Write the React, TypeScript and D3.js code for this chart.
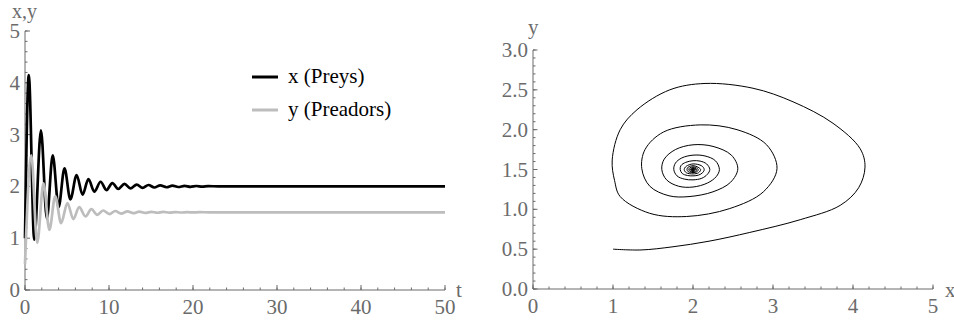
import * as d3 from "d3";

// time series (extrema + settling values)
const PREY_T = [0, 0.45, 1.1, 1.9, 2.6, 3.3, 4.0, 4.7, 5.4, 6.15, 6.85, 7.55, 8.25, 9.0, 9.7, 10.4, 11.1, 11.85, 12.55, 13.3, 14.0, 14.7, 15.4, 16.1, 16.85, 17.55, 18.25, 19.0, 19.7, 20.4, 21.1, 21.8, 23, 50];
const PREY = [1.0, 4.15, 0.97, 3.08, 1.38, 2.6, 1.6, 2.35, 1.75, 2.22, 1.84, 2.14, 1.9, 2.09, 1.93, 2.065, 1.95, 2.048, 1.963, 2.036, 1.972, 2.027, 1.979, 2.02, 1.984, 2.015, 1.988, 2.011, 1.991, 2.008, 1.994, 2.005, 2.0, 2.0];
const PRED_T = [0, 0.75, 1.45, 2.2, 2.9, 3.6, 4.3, 5.05, 5.75, 6.45, 7.2, 7.9, 8.6, 9.3, 10.05, 10.75, 11.45, 12.2, 12.9, 13.6, 14.3, 15.05, 15.75, 16.45, 17.2, 17.9, 18.6, 19.3, 20.05, 20.75, 22, 50];
const PRED = [0.5, 2.6, 0.91, 2.06, 1.16, 1.81, 1.29, 1.68, 1.37, 1.6, 1.42, 1.56, 1.45, 1.535, 1.465, 1.525, 1.476, 1.518, 1.483, 1.513, 1.488, 1.509, 1.491, 1.507, 1.494, 1.505, 1.496, 1.503, 1.497, 1.502, 1.5, 1.5];

// phase portrait (x, y), traced along the spiral
const ORBIT: [number, number][] = [
  [1.0, 0.5], [1.35, 0.49], [1.75, 0.53], [2.2, 0.6], [2.71, 0.71], [3.34, 0.87], [3.84, 1.05], [4.07, 1.27], [4.15, 1.53],
  [4.09, 1.76], [3.75, 2.08], [3.25, 2.35], [2.75, 2.52], [2.15, 2.58], [1.71, 2.5], [1.3, 2.25], [1.09, 2.0],
  [0.99, 1.62], [1.02, 1.36], [1.09, 1.16], [1.46, 0.95], [1.92, 0.91], [2.46, 1.01], [2.88, 1.22], [3.05, 1.51],
  [2.92, 1.81], [2.55, 2.0], [2.09, 2.06], [1.63, 1.97], [1.4, 1.75], [1.36, 1.51], [1.46, 1.29], [1.7, 1.17],
  [1.95, 1.16], [2.25, 1.22], [2.47, 1.34], [2.56, 1.51],
  [2.48, 1.68], [2.25, 1.79], [2.0, 1.81], [1.78, 1.75], [1.64, 1.63], [1.61, 1.5], [1.67, 1.37], [1.82, 1.29],
  [2.0, 1.28], [2.18, 1.33], [2.29, 1.41], [2.33, 1.5],
  [2.28, 1.61], [2.15, 1.67], [2.0, 1.68], [1.86, 1.645], [1.78, 1.58], [1.76, 1.5], [1.8, 1.42], [1.89, 1.38],
  [2.0, 1.37], [2.11, 1.39], [2.18, 1.44], [2.21, 1.5],
  [2.17, 1.57], [2.09, 1.605], [2.0, 1.61], [1.91, 1.59], [1.85, 1.55], [1.84, 1.5], [1.865, 1.45], [1.93, 1.425],
  [2.0, 1.42], [2.07, 1.43], [2.12, 1.46], [2.14, 1.5],
  [2.11, 1.545], [2.0, 1.57], [1.915, 1.54], [1.89, 1.5], [1.915, 1.46], [2.0, 1.445], [2.07, 1.46], [2.095, 1.5],
  [2.05, 1.535], [2.0, 1.548], [1.94, 1.53], [1.925, 1.5], [1.94, 1.472], [2.0, 1.462], [2.05, 1.472], [2.065, 1.5],
  [2.035, 1.524], [2.0, 1.533], [1.96, 1.522], [1.948, 1.5], [1.96, 1.48], [2.0, 1.473], [2.035, 1.48], [2.045, 1.5],
  [2.0, 1.523], [1.963, 1.5], [2.0, 1.481], [2.031, 1.5],
  [2.0, 1.516], [1.974, 1.5], [2.0, 1.487], [2.022, 1.5],
  [2.0, 1.511], [1.982, 1.5], [2.0, 1.491], [2.015, 1.5],
  [2.0, 1.508], [1.988, 1.5], [2.0, 1.494], [2.01, 1.5],
  [2.0, 1.505], [1.992, 1.5], [2.0, 1.496], [2.006, 1.5],
  [2.0, 1.503], [1.995, 1.5], [2.0, 1.498], [2.003, 1.5], [2.0, 1.5],
];

const LEFT_X_TICKS = [0, 10, 20, 30, 40, 50];
const LEFT_Y_TICKS = [0, 1, 2, 3, 4, 5];
const RIGHT_X_TICKS = [0, 1, 2, 3, 4, 5];
const RIGHT_Y_TICKS = [0, 0.5, 1, 1.5, 2, 2.5, 3];
const LEGEND = ["x (Preys)", "y (Preadors)"];
const LEGEND_COLORS = ["#000000", "#bdbdbd"];

const AXIS = "#6b6b6b";
const FONT = "Liberation Serif, DejaVu Serif, serif";
const FS = 21;
const txt = { fontFamily: FONT, fontSize: FS };

function Axes({ x, y, xMajor, yMajor, xMinor, yMinor, yFmt, majorLen, minorLen }: any) {
  const [x0, x1] = x.range();
  const [y0, y1] = y.range();
  return (
    <g>
      <g stroke={AXIS} fill="none">
        <line x1={x0} x2={x1} y1={y0} y2={y0} />
        <line x1={x0} x2={x0} y1={y0} y2={y1} />
        {xMinor.map((v: number) => (
          <line key={"xm" + v} x1={x(v)} x2={x(v)} y1={y0} y2={y0 - minorLen} />
        ))}
        {yMinor.map((v: number) => (
          <line key={"ym" + v} x1={x0} x2={x0 + minorLen} y1={y(v)} y2={y(v)} />
        ))}
        {xMajor.map((v: number) => (
          <line key={"xM" + v} x1={x(v)} x2={x(v)} y1={y0} y2={y0 - majorLen} />
        ))}
        {yMajor.map((v: number) => (
          <line key={"yM" + v} x1={x0} x2={x0 + majorLen} y1={y(v)} y2={y(v)} />
        ))}
      </g>
      {/* tick labels */}
      {xMajor.map((v: number) => (
        <text key={"xl" + v} x={x(v)} y={y0 + 24} textAnchor="middle" fill={AXIS} style={txt}>
          {v}
        </text>
      ))}
      {yMajor.map((v: number) => (
        <text key={"yl" + v} x={x0 - 5} y={y(v) + 7} textAnchor="end" fill={AXIS} style={txt}>
          {yFmt(v)}
        </text>
      ))}
    </g>
  );
}

export default function App() {
  // left panel scales
  const xL = d3.scaleLinear().domain([0, 50]).range([25, 445]);
  const yL = d3.scaleLinear().domain([0, 5]).range([290, 31]);
  // right panel scales
  const xR = d3.scaleLinear().domain([0, 5]).range([533, 933]);
  const yR = d3.scaleLinear().domain([0, 3]).range([289, 50]);

  const series = d3
    .line<[number, number]>()
    .x((d) => xL(d[0]))
    .y((d) => yL(d[1]))
    .curve(d3.curveMonotoneX);

  const orbit = d3
    .line<[number, number]>()
    .x((d) => xR(d[0]))
    .y((d) => yR(d[1]))
    .curve(d3.curveCatmullRom.alpha(0.5));

  const prey = PREY_T.map((t, i) => [t, PREY[i]] as [number, number]);
  const pred = PRED_T.map((t, i) => [t, PRED[i]] as [number, number]);

  const fmt1 = d3.format(".1f");

  return (
    <svg width={954} height={324} style={{ position: "absolute", left: 0, top: 0 }}>
      <rect width={954} height={324} fill="#fff" />

      {/* left: time series */}
      <Axes
        x={xL}
        y={yL}
        xMajor={LEFT_X_TICKS}
        yMajor={LEFT_Y_TICKS}
        xMinor={d3.range(0, 50.001, 2)}
        yMinor={d3.range(0, 5.001, 0.2)}
        yFmt={(v: number) => String(v)}
        majorLen={5}
        minorLen={2.5}
      />
      <path d={series(prey) || ""} fill="none" stroke={LEGEND_COLORS[0]} strokeWidth={2.7} strokeLinejoin="round" />
      <path d={series(pred) || ""} fill="none" stroke={LEGEND_COLORS[1]} strokeWidth={2.7} strokeLinejoin="round" />
      <text x={12} y={18} fill={AXIS} style={{ ...txt, fontSize: 20 }}>x,y</text>
      <text x={456} y={297} fill={AXIS} style={txt}>t</text>

      {/* legend */}
      {LEGEND.map((label, i) => (
        <g key={label} transform={`translate(252, ${77 + i * 33})`}>
          <line x1={0} x2={26} stroke={LEGEND_COLORS[i]} strokeWidth={3} />
          <text x={36} y={6} fill="#000" style={txt}>
            {label}
          </text>
        </g>
      ))}

      {/* right: phase portrait */}
      <Axes
        x={xR}
        y={yR}
        xMajor={RIGHT_X_TICKS}
        yMajor={RIGHT_Y_TICKS}
        xMinor={d3.range(0, 5.001, 0.2)}
        yMinor={d3.range(0, 3.001, 0.1)}
        yFmt={fmt1}
        majorLen={4.5}
        minorLen={2.5}
      />
      <path d={orbit(ORBIT) || ""} fill="none" stroke="#000" strokeWidth={1} strokeLinejoin="round" />
      <text x={528} y={34} fill={AXIS} style={txt}>y</text>
      <text x={945} y={297} fill={AXIS} style={txt}>x</text>
    </svg>
  );
}
